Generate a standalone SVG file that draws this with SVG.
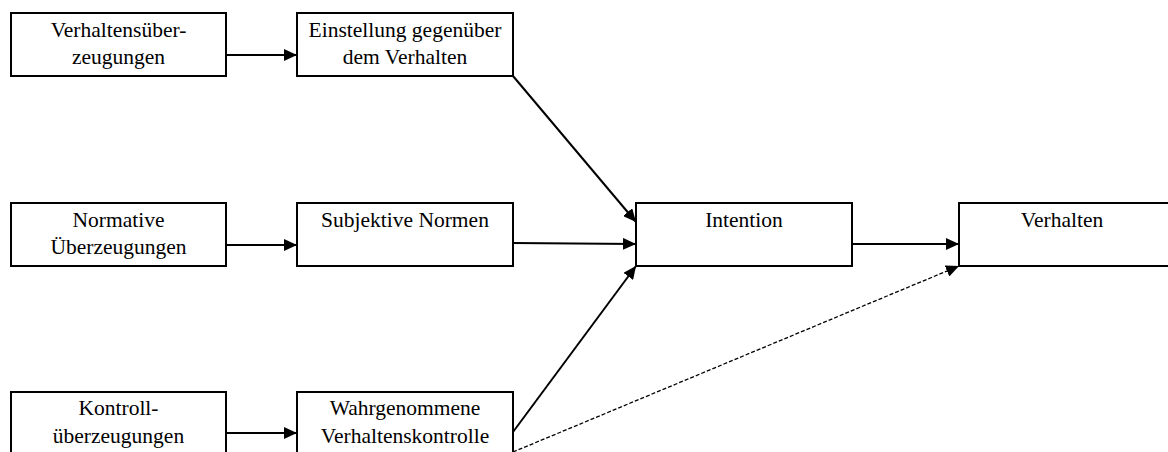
<svg xmlns="http://www.w3.org/2000/svg" width="1168" height="452" viewBox="0 0 1168 452">
<style>
.box{fill:#fff;stroke:#000;stroke-width:2}
.t{font-family:"Liberation Serif","Times New Roman",serif;font-size:21.5px;fill:#000;text-anchor:middle}
.c{stroke:#000;stroke-width:2;fill:none}
.d{stroke:#000;stroke-width:1.3;fill:none;stroke-dasharray:4 2}
</style>
<defs>
<marker id="ah" viewBox="0 0 13 12" refX="13" refY="6" markerWidth="13" markerHeight="12" markerUnits="userSpaceOnUse" orient="auto">
<path d="M0,0 L13,6 L0,12 Z" fill="#000"/>
</marker>
</defs>
<rect width="1168" height="452" fill="#fff"/>
<g id="n1"><rect class="box" x="11" y="13" width="215" height="63"/><text class="t" x="118.5" y="37">Verhaltensüber-</text><text class="t" x="118.5" y="64">zeugungen</text></g>
<g id="n2"><rect class="box" x="297" y="13" width="216" height="63"/><text class="t" x="405" y="37">Einstellung gegenüber</text><text class="t" x="405" y="64">dem Verhalten</text></g>
<g id="n3"><rect class="box" x="11" y="203" width="215" height="63"/><text class="t" x="118.5" y="227">Normative</text><text class="t" x="118.5" y="254">Überzeugungen</text></g>
<g id="n4"><rect class="box" x="297" y="203" width="216" height="63"/><text class="t" x="405" y="227">Subjektive Normen</text></g>
<g id="n5"><rect class="box" x="11" y="392" width="215" height="80"/><text class="t" x="118.5" y="415">Kontroll-</text><text class="t" x="118.5" y="443">überzeugungen</text></g>
<g id="n6"><rect class="box" x="297" y="392" width="216" height="80"/><text class="t" x="405" y="415">Wahrgenommene</text><text class="t" x="405" y="443">Verhaltenskontrolle</text></g>
<g id="n7"><rect class="box" x="636" y="203" width="216" height="63"/><text class="t" x="744" y="227">Intention</text></g>
<g id="n8"><rect class="box" x="959" y="203" width="230" height="63"/><text class="t" x="1062" y="227">Verhalten</text></g>
<g id="connectors">
<line class="c" x1="226" y1="55" x2="297" y2="55" marker-end="url(#ah)"/>
<line class="c" x1="226" y1="245" x2="297" y2="245" marker-end="url(#ah)"/>
<line class="c" x1="226" y1="433" x2="297" y2="433" marker-end="url(#ah)"/>
<line class="c" x1="513" y1="243" x2="636" y2="244" marker-end="url(#ah)"/>
<line class="c" x1="513" y1="76" x2="636" y2="222" marker-end="url(#ah)"/>
<line class="c" x1="513" y1="432" x2="636" y2="266" marker-end="url(#ah)"/>
<line class="c" x1="852" y1="244" x2="959" y2="244" marker-end="url(#ah)"/>
<line class="d" x1="513" y1="452" x2="959" y2="266" marker-end="url(#ah)"/>
</g>
</svg>
